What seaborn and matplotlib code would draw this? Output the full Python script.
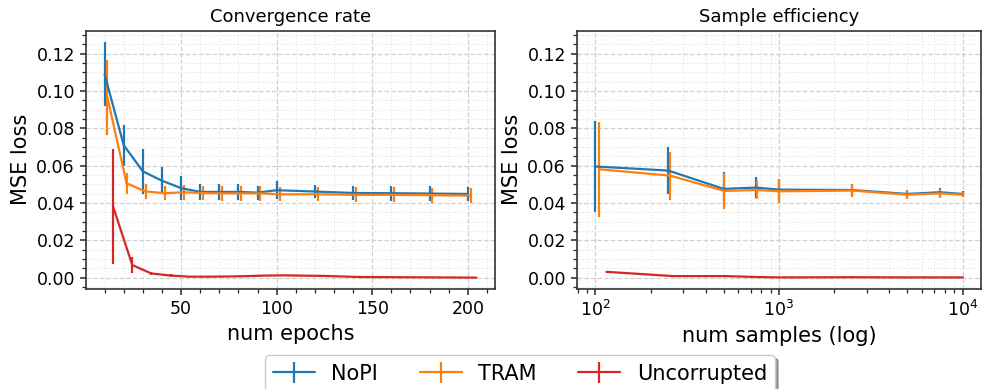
import numpy as np
import pandas as pd
import matplotlib
matplotlib.use("Agg")
import matplotlib.pyplot as plt
import matplotlib.ticker as mticker
from matplotlib.container import ErrorbarContainer
import seaborn as sns

# ---------------- data ----------------
methods = ["NoPI", "TRAM", "Uncorrupted"]
colors = ["#1f77b4", "#ff7f0e", "#d62728"]

epochs = [10, 20, 30, 40, 50, 60, 70, 80, 90, 100, 120, 140, 160, 180, 200]
nopi_ep_mean = [0.109, 0.071, 0.057, 0.052, 0.048, 0.046, 0.046, 0.046, 0.0456, 0.0469, 0.0462, 0.0454, 0.0453, 0.0451, 0.0449]
nopi_ep_err = [0.017, 0.011, 0.012, 0.0072, 0.0063, 0.0042, 0.0042, 0.0042, 0.0038, 0.0048, 0.0034, 0.0036, 0.004, 0.0038, 0.0038]
tram_ep_mean = [0.0965, 0.0506, 0.0462, 0.0453, 0.0458, 0.0454, 0.0452, 0.0452, 0.0452, 0.0447, 0.0447, 0.0444, 0.0444, 0.0442, 0.044]
tram_ep_err = [0.0199, 0.0055, 0.004, 0.0038, 0.004, 0.004, 0.004, 0.004, 0.004, 0.0038, 0.0038, 0.004, 0.004, 0.004, 0.0039]
unc_ep_mean = [0.038, 0.0068, 0.0023, 0.0012, 0.0006, 0.0006, 0.0007, 0.0009, 0.0012, 0.0013, 0.0010, 0.0004, 0.0003, 0.0002, 0.0001]
unc_ep_err = [0.0307, 0.0045, 0.001, 0.0007, 0.0003, 0.0002, 0.0002, 0.0002, 0.0003, 0.0003, 0.0002, 0.0001, 0.0001, 0.0001, 0.0001]

samples = [100, 250, 500, 750, 1000, 2500, 5000, 7500, 10000]
nopi_s_mean = [0.0596, 0.0574, 0.0476, 0.0483, 0.0472, 0.0470, 0.0449, 0.0458, 0.0449]
nopi_s_err = [0.0242, 0.0128, 0.0092, 0.0054, 0.0058, 0.0034, 0.002, 0.0022, 0.0015]
tram_s_mean = [0.0581, 0.0547, 0.0465, 0.0470, 0.0463, 0.0467, 0.0445, 0.0452, 0.0445]
tram_s_err = [0.0255, 0.0128, 0.0094, 0.0049, 0.0065, 0.0037, 0.0023, 0.0025, 0.0015]
unc_s_mean = [0.0032, 0.0009, 0.0009, 0.0004, 0.0002, 0.0003, 0.0002, 0.0002, 0.0002]
unc_s_err = [0.0006, 0.0002, 0.0002, 0.0001, 0.0001, 0.0001, 0.0001, 0.0001, 0.0001]

# horizontal dodge (styling) per method
ep_dodge = [0.0, 1.5, 4.5]
s_dodge = [0.0, 5.0, 15.0]

# ---------------- style ----------------
sns.set_theme(style="ticks")
plt.rcParams["font.family"] = ["DejaVu Sans"]
plt.rcParams.update({
    "text.color": "black",
    "axes.labelcolor": "black",
    "xtick.color": "black",
    "ytick.color": "black",
    "xtick.labelcolor": "black",
    "ytick.labelcolor": "black",
})

fig = plt.figure(figsize=(9.82, 3.89), dpi=100)
ax1 = fig.add_axes([86 / 982, 1 - 289 / 389, 409 / 982, 258.3 / 389])
ax2 = fig.add_axes([577 / 982, 1 - 289 / 389, 404 / 982, 258.3 / 389])


def draw(ax, xs, means, errs, dodge):
    handles = []
    for name, col, m, e, d in zip(methods, colors, means, errs, dodge):
        x = np.array(xs, dtype=float) + d
        df = pd.DataFrame({"x": x, "y": m})
        eb = ax.errorbar(x, m, yerr=e, fmt="none", ecolor=col, elinewidth=1.6, zorder=2)
        n_before = len(ax.lines)
        sns.lineplot(data=df, x="x", y="y", color=col, linewidth=1.6, ax=ax,
                     legend=False, estimator=None, zorder=3)
        line = ax.lines[n_before]
        handles.append(ErrorbarContainer((line, (), eb.lines[2]), has_xerr=False,
                                         has_yerr=True, label=name))
    return handles


handles = draw(ax1, epochs, [nopi_ep_mean, tram_ep_mean, unc_ep_mean],
               [nopi_ep_err, tram_ep_err, unc_ep_err], ep_dodge)
draw(ax2, samples, [nopi_s_mean, tram_s_mean, unc_s_mean],
     [nopi_s_err, tram_s_err, unc_s_err], s_dodge)

ax2.set_xscale("log")

for ax in (ax1, ax2):
    ax.set_ylim(-0.006, 0.1323)
    ax.yaxis.set_major_locator(mticker.MultipleLocator(0.02))
    ax.yaxis.set_minor_locator(mticker.MultipleLocator(0.005))
    ax.yaxis.set_major_formatter(mticker.FormatStrFormatter("%.2f"))
    ax.grid(True, which="major", linestyle="--", color="#d0d0d0", linewidth=0.9)
    ax.grid(True, which="minor", linestyle=":", color="#e2e2e2", linewidth=0.8)
    ax.set_axisbelow(True)
    ax.tick_params(axis="both", which="major", labelsize=12.5, length=4.5, width=1.1,
                   color="0.15", labelcolor="black")
    ax.tick_params(axis="both", which="minor", length=2.8, width=0.9, color="0.15")
    for s in ax.spines.values():
        s.set_color("0.2")
        s.set_linewidth(1.2)
    ax.set_ylabel("MSE loss", fontsize=15, color="black")
    ax.set_facecolor("white")

ax1.xaxis.set_major_locator(mticker.MultipleLocator(50))
ax1.xaxis.set_minor_locator(mticker.MultipleLocator(10))
ax1.set_xlabel("num epochs", fontsize=15, color="black")
ax1.set_title("Convergence rate", fontsize=13, color="black")

ax2.xaxis.set_major_locator(mticker.LogLocator(base=10))
ax2.xaxis.set_minor_locator(mticker.LogLocator(base=10, subs=np.arange(2, 10)))
ax2.xaxis.set_minor_formatter(mticker.NullFormatter())
ax2.set_xlabel("num samples (log)", fontsize=15, color="black")
ax2.set_title("Sample efficiency", fontsize=13, color="black")

leg = fig.legend(handles=handles, labels=methods, loc="upper center",
                 bbox_to_anchor=(520 / 982, 1 - 345 / 389), ncol=3, fontsize=15,
                 shadow=True, frameon=True, framealpha=1, edgecolor="0.8",
                 columnspacing=2.0, handlelength=2.0)
for t in leg.get_texts():
    t.set_color("black")

fig.savefig("out.png", dpi=100, facecolor="white")
